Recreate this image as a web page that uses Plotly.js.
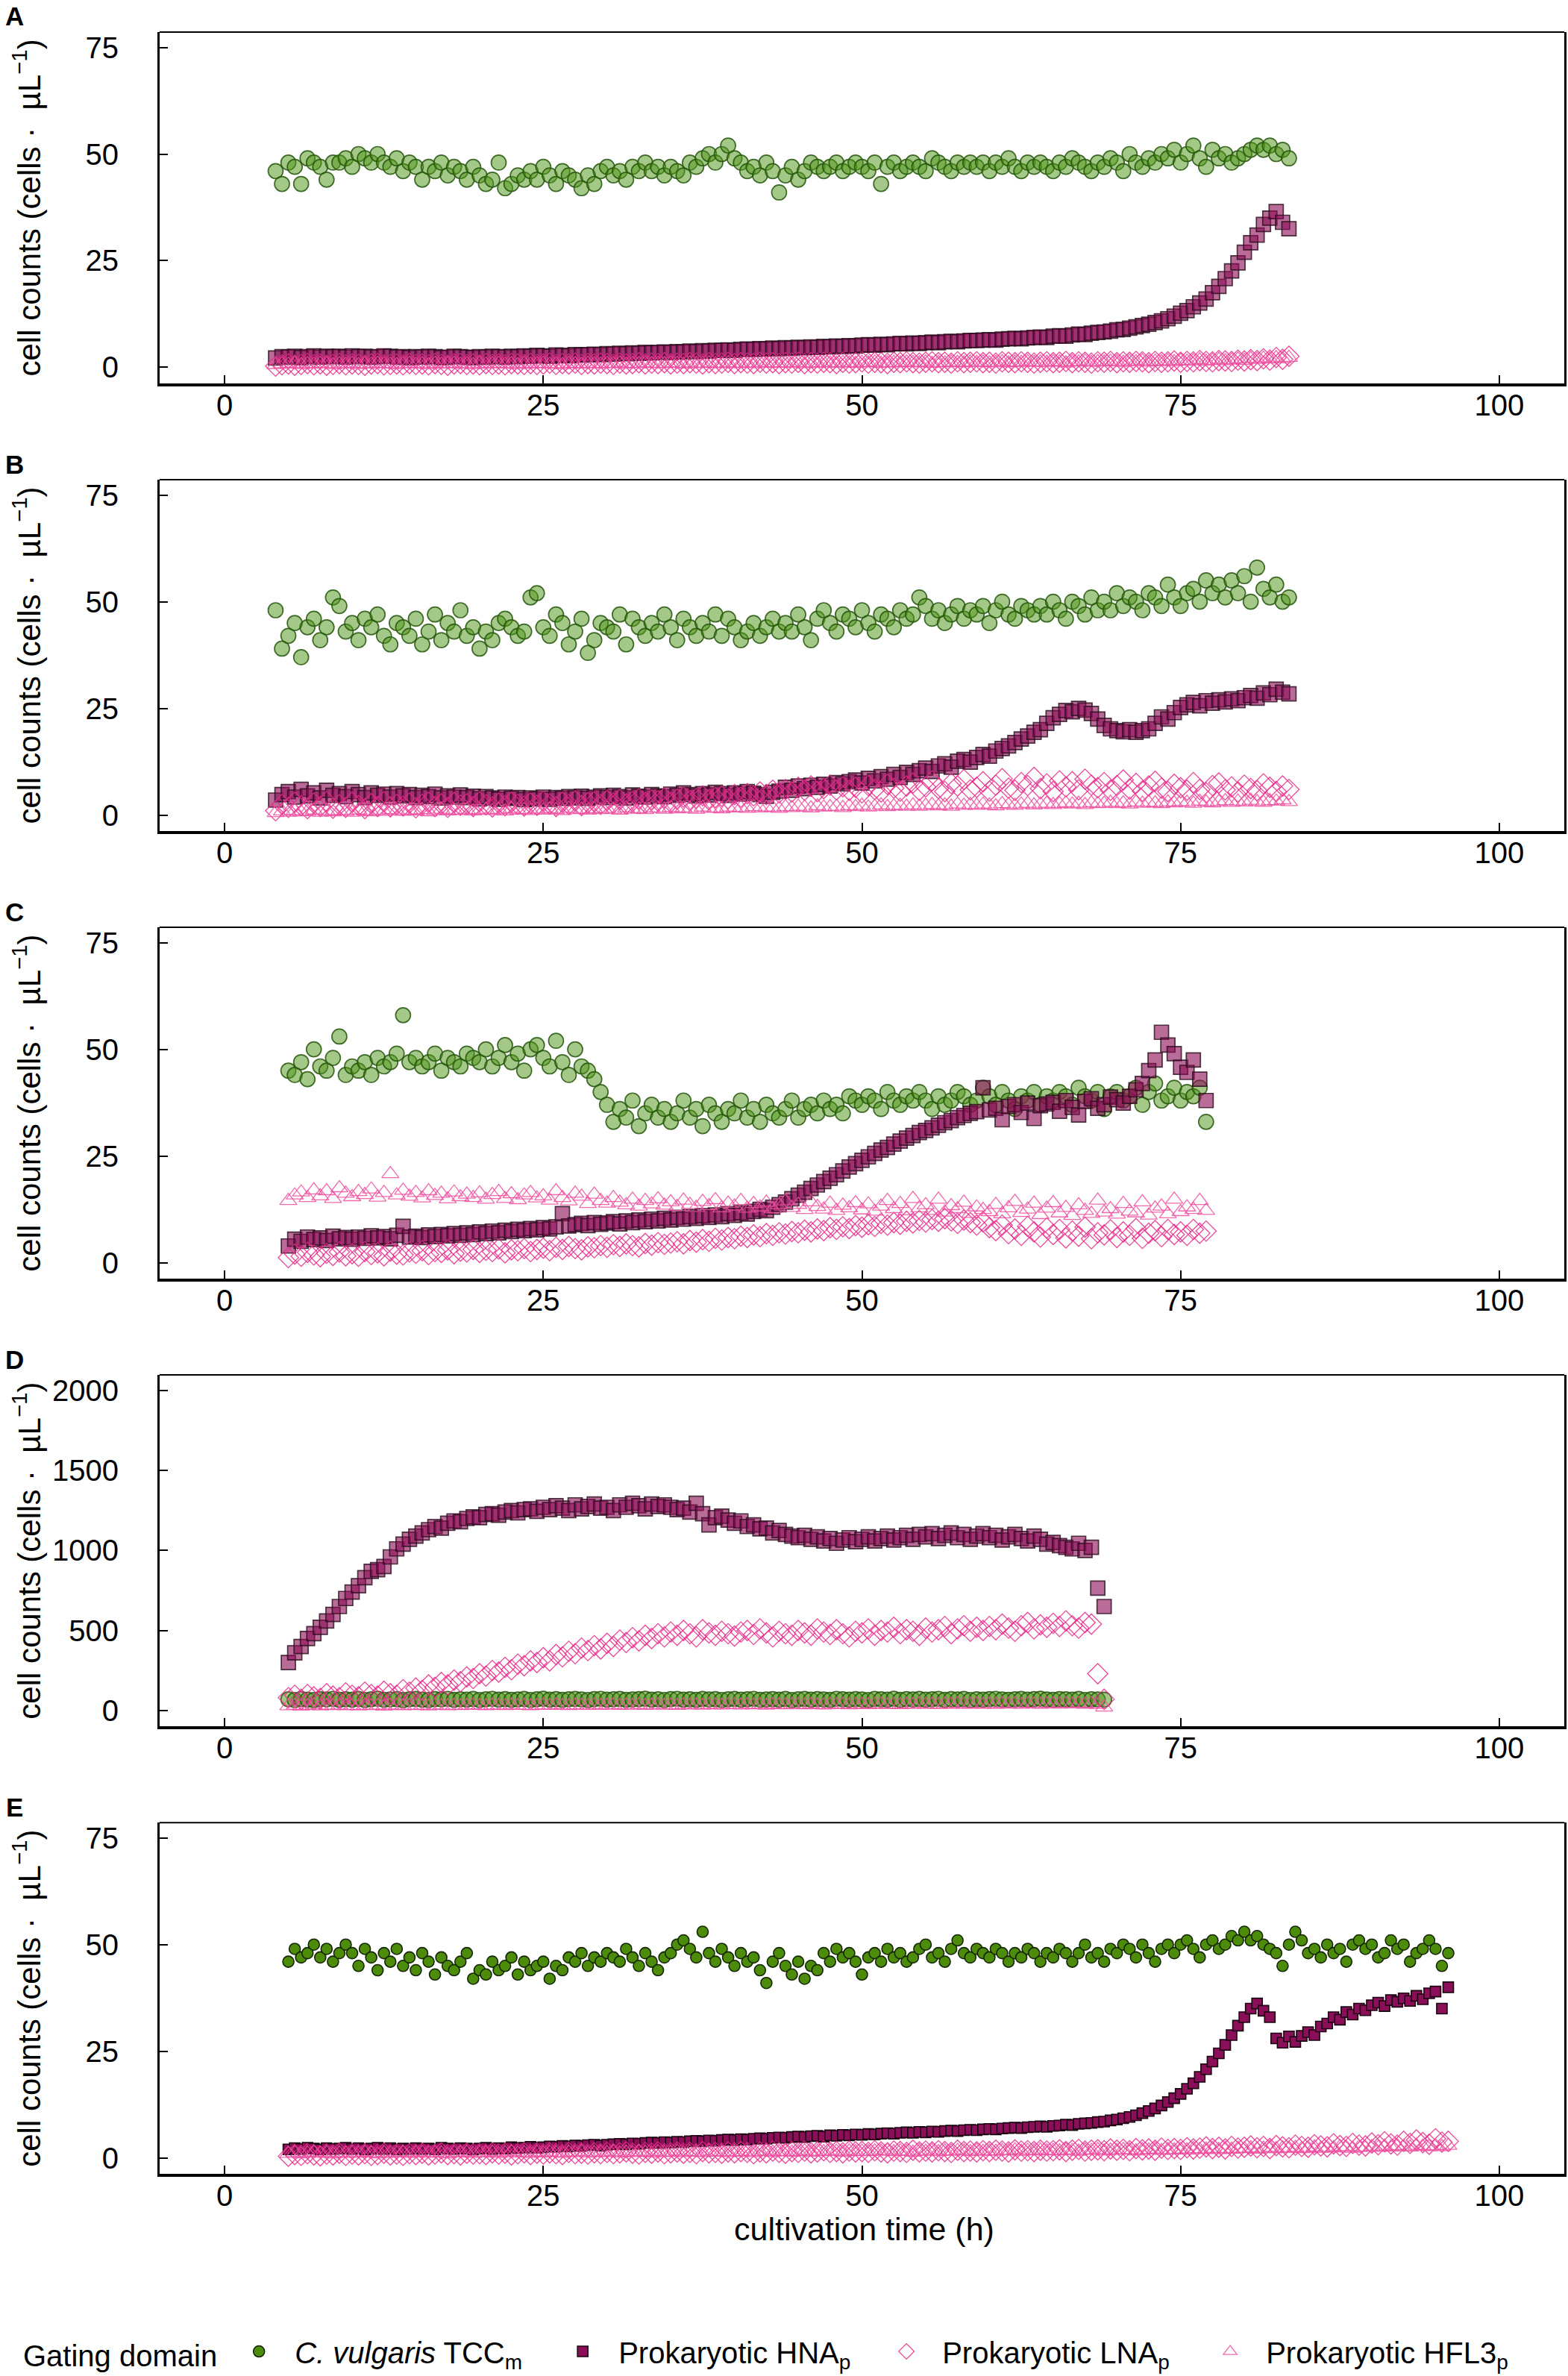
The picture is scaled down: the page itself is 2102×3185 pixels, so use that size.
<!DOCTYPE html>
<html>
<head>
<meta charset="utf-8">
<script src="https://cdn.plot.ly/plotly-3.0.1.min.js"></script>
<style>html,body{margin:0;padding:0;background:#fff;}#chart{width:2102px;height:3185px;}</style>
</head>
<body>
<div id="chart"></div>
<script>
// ---------------- DATA (cells per µL, sampled every 0.5 h) ----------------
const panelLetters = ["A", "B", "C", "D", "E"];
const seriesNames = ["<i>C. vulgaris</i> TCC<sub>m</sub>", "Prokaryotic HNA<sub>p</sub>", "Prokaryotic LNA<sub>p</sub>", "Prokaryotic HFL3<sub>p</sub>"];
const xTicks = [0, 25, 50, 75, 100];
const yTicksSmall = [0, 25, 50, 75];
const yTicksD = [0, 500, 1000, 1500, 2000];
const sampleStep = 0.5;
const startA = 4, startB = 4, startC = 5, startD = 5, startE = 5;

// Panel A
const greenA = [46,43,48,47,43,49,48,47,44,48, 48,49,47,50,49,48,50,48,47,49, 46,48,47,44,47,46,48,45,47,46, 44,47,45,43,44,48,42,43,45,44,
 46,44,47,45,43,46,45,44,42,45, 43,46,47,45,46,44,47,46,48,46, 47,45,47,46,45,48,47,49,50,48, 50,52,49,48,46,47,45,48,46,41,
 45,47,44,46,48,47,46,47,48,46, 47,48,47,46,48,43,47,48,46,47, 48,47,46,49,48,47,46,48,47,48, 47,48,46,48,47,49,47,46,48,47,
 48,47,46,48,47,49,48,47,46,48, 47,49,48,46,50,48,47,49,48,50, 49,51,48,50,52,49,47,51,49,50, 48,49,50,51,52,51,52,50,51,49];
const hnaA = [2.2,2.5,2.4,2.6,2.3,2.5,2.7,2.4,2.6,2.5, 2.6,2.4,2.7,2.5,2.6,2.4,2.5,2.7,2.6,2.4, 2.5,2.3,2.5,2.4,2.6,2.5,2.3,2.4,2.6,2.5, 2.4,2.3,2.5,2.4,2.6,2.5,2.4,2.6,2.5,2.7,
 2.6,2.8,2.7,2.6,2.9,2.8,2.7,3.0,2.9,3.0, 3.1,3.0,3.2,3.1,3.3,3.2,3.4,3.3,3.5,3.4, 3.5,3.6,3.5,3.7,3.6,3.8,3.7,3.9,3.8,4.0, 4.0,4.1,4.0,4.2,4.3,4.2,4.4,4.3,4.5,4.4,
 4.6,4.5,4.7,4.6,4.8,4.7,4.9,4.8,5.0,4.9, 5.1,5.0,5.2,5.3,5.2,5.4,5.3,5.5,5.6,5.5, 5.7,5.6,5.8,5.9,5.8,6.0,6.1,6.0,6.2,6.3, 6.3,6.4,6.5,6.4,6.6,6.7,6.8,6.7,6.9,7.0,
 7.1,7.0,7.3,7.4,7.3,7.6,7.8,7.7,8.0,8.2, 8.3,8.5,8.8,8.9,9.2,9.5,9.8,10.1,10.5,10.9, 11.4,12.0,12.7,13.3,14.2,15.1,16.0,17.5,19.0,20.8, 22.6,24.5,27.0,29.2,31.0,33.5,35.0,36.5,34.0,32.5];
const lnaA = [0.3,0.6,0.8,0.5,0.7,0.9,0.6,0.8,0.5,0.7, 0.9,0.6,0.8,0.7,0.5,0.8,0.9,0.6,0.7,0.8, 0.6,0.9,0.7,0.8,0.6,0.9,0.7,0.5,0.8,0.9, 0.7,0.8,0.6,0.9,0.7,0.8,0.6,0.9,0.8,0.7,
 0.9,0.7,0.8,1.0,0.7,0.9,0.8,1.0,0.7,0.9, 0.8,1.0,0.9,0.7,1.0,0.8,0.9,1.1,0.8,1.0, 0.9,1.1,0.8,1.0,0.9,1.1,1.0,0.8,1.1,0.9, 1.0,1.2,0.9,1.1,1.0,0.9,1.2,1.0,1.1,0.9,
 1.1,1.0,1.2,0.9,1.1,1.0,1.2,1.1,0.9,1.2, 1.0,1.1,1.3,1.0,1.2,1.1,0.9,1.2,1.1,1.3, 1.1,1.0,1.2,1.3,1.1,1.2,1.0,1.3,1.1,1.2, 1.3,1.1,1.2,1.0,1.3,1.2,1.1,1.3,1.2,1.0,
 1.2,1.3,1.1,1.2,1.4,1.1,1.3,1.2,1.0,1.3, 1.2,1.4,1.1,1.3,1.2,1.4,1.3,1.1,1.4,1.2, 1.3,1.5,1.2,1.4,1.3,1.6,1.4,1.3,1.6,1.5, 1.4,1.7,1.5,1.8,1.6,2.0,1.7,2.3,1.9,2.6];
const hfl3A = [0.6,0.8,0.7,0.9,0.6,0.8,0.7,0.9,0.8,0.6, 0.8,0.7,0.9,0.6,0.8,0.7,0.9,0.8,0.7,0.6, 0.8,0.9,0.7,0.8,0.6,0.9,0.7,0.8,0.9,0.7, 0.8,0.6,0.9,0.7,0.8,0.9,0.7,0.8,0.6,0.9,
 0.7,0.8,0.9,0.7,0.8,0.6,0.9,0.8,0.7,0.9, 0.8,0.7,0.9,0.8,1.0,0.7,0.9,0.8,1.0,0.8, 0.9,0.8,1.0,0.9,0.7,1.0,0.8,0.9,1.0,0.8, 0.9,1.0,0.8,0.9,1.0,0.8,1.1,0.9,1.0,0.9,
 1.0,0.9,1.1,0.8,1.0,0.9,1.1,1.0,0.9,1.1, 1.0,0.9,1.1,1.0,1.2,0.9,1.0,1.1,1.0,1.2, 1.1,1.0,1.2,0.9,1.1,1.0,1.2,1.1,1.0,1.2, 1.1,1.2,1.0,1.1,1.3,1.0,1.2,1.1,1.3,1.1,
 1.2,1.1,1.3,1.2,1.0,1.3,1.2,1.4,1.1,1.3, 1.2,1.4,1.3,1.1,1.4,1.3,1.5,1.2,1.4,1.3, 1.5,1.3,1.6,1.4,1.5,1.7,1.4,1.6,1.8,1.5, 1.7,1.9,1.6,2.0,1.8,2.1,1.9,2.2,2.0,2.3];

// Panel B
const greenB = [48,39,42,45,37,44,46,41,44,51, 49,43,45,41,46,44,47,42,40,45, 44,42,46,40,43,47,41,45,43,48, 42,44,39,43,41,45,46,44,42,43,
 51,52,44,42,47,45,40,43,46,38, 41,45,44,43,47,40,46,44,42,45, 43,47,44,41,46,44,42,45,43,47, 42,46,44,41,43,45,42,44,46,43,
 45,43,47,44,41,46,48,45,43,47, 46,44,48,45,43,47,46,44,48,46, 47,51,49,46,48,45,47,49,46,48, 47,49,45,48,50,47,46,49,48,47,
 49,47,50,48,46,50,49,47,51,48, 50,48,52,49,51,50,48,52,51,49, 54,51,49,52,53,50,55,52,54,51, 55,52,56,50,58,53,51,54,50,51];
const hnaB = [3.5,4.8,5.5,4.2,6.0,4.5,5.2,4.0,5.8,4.6, 5.0,4.3,5.5,4.8,4.1,5.2,4.6,4.9,4.2,5.0, 4.5,4.8,4.1,4.6,4.3,4.9,4.0,4.5,4.2,4.7, 4.1,4.4,3.8,4.3,4.0,3.7,4.2,3.9,4.1,3.6,
 4.0,3.8,4.2,3.7,4.1,3.9,4.3,4.0,4.4,3.9, 4.2,4.5,4.1,4.6,4.3,4.0,4.7,4.4,4.2,4.8, 4.5,4.3,4.9,4.6,5.2,4.8,4.5,5.0,4.7,5.3, 5.0,4.6,5.2,4.9,5.5,5.1,4.8,4.4,5.3,5.6,
 6.5,5.8,6.8,6.2,7.0,6.5,7.2,6.8,7.6,7.3, 7.8,8.2,7.5,8.6,8.0,9.0,8.4,9.5,8.8,10.0, 9.5,10.4,11.0,10.2,11.5,12.0,11.2,12.6,13.0,12.4, 13.5,14.2,13.8,15.0,15.6,16.2,17.0,17.8,18.5,19.4,
 20.0,21.5,22.8,23.6,24.5,24.2,25.0,24.6,23.8,22.5, 21.0,20.2,19.8,19.5,20.0,19.4,19.8,20.2,21.5,23.0, 22.5,24.0,25.2,25.8,26.4,25.6,26.8,26.2,27.0,26.5, 27.2,26.8,27.5,28.0,27.4,28.6,28.2,29.5,28.8,28.4];
const lnaB = [1.0,2.5,1.8,3.0,2.2,1.5,2.8,2.0,3.2,1.6, 2.4,1.8,3.0,2.2,1.5,2.7,2.0,3.1,1.9,2.5, 2.1,2.8,1.7,2.5,3.0,2.0,2.6,1.8,2.9,2.3, 2.6,2.0,3.1,2.4,1.9,2.8,2.2,3.0,2.5,2.1,
 2.8,2.3,3.2,2.6,2.0,3.0,2.5,3.3,2.2,2.9, 3.1,2.5,3.4,2.8,3.6,2.6,3.2,3.8,2.9,3.5, 3.3,4.0,3.0,3.7,4.2,3.4,3.9,4.5,3.6,4.1, 4.4,3.8,4.8,4.2,5.0,4.5,5.4,4.8,5.8,5.2,
 6.0,5.4,6.5,5.8,6.8,5.5,6.2,7.0,5.9,6.6, 5.8,6.5,5.2,6.9,6.0,5.4,7.2,6.3,5.6,6.8, 7.5,5.8,6.6,8.0,6.2,5.5,7.4,6.8,8.3,5.9, 6.5,7.8,5.6,7.0,8.5,6.3,5.8,7.6,6.9,8.8,
 6.2,7.3,5.5,8.0,6.6,7.8,5.9,8.4,7.0,6.4, 7.6,5.8,6.9,8.2,6.1,7.4,5.6,6.8,7.9,6.3, 5.5,7.2,6.4,5.8,7.6,6.0,5.2,6.9,7.5,5.9, 6.6,5.4,7.0,6.2,5.7,7.3,6.5,5.5,6.8,6.0];
const hfl3B = [0.5,0.9,0.6,1.0,0.7,0.8,1.1,0.6,0.9,0.7, 1.0,0.8,0.6,1.1,0.9,0.7,1.0,0.8,1.2,0.9, 0.8,1.1,0.9,1.2,0.7,1.0,1.3,0.9,1.1,1.0, 1.2,0.9,1.1,1.3,1.0,1.2,0.9,1.4,1.1,1.2,
 1.0,1.3,1.1,1.4,1.2,1.0,1.5,1.2,1.3,1.1, 1.4,1.2,1.5,1.3,1.1,1.6,1.3,1.4,1.2,1.6, 1.5,1.3,1.7,1.4,1.6,1.5,1.3,1.8,1.5,1.6, 1.4,1.8,1.6,1.7,1.5,1.9,1.6,1.8,1.7,1.5,
 1.9,1.7,2.0,1.8,1.6,2.1,1.8,1.9,2.0,1.7, 2.1,1.9,2.2,1.8,2.0,2.3,1.9,2.1,2.2,2.0, 2.3,2.0,2.2,2.4,2.1,2.3,2.0,2.5,2.2,2.4, 2.2,2.5,2.3,2.1,2.6,2.4,2.2,2.5,2.7,2.3,
 2.5,2.7,2.4,2.6,2.8,2.5,2.7,2.4,2.8,2.6, 2.7,2.9,2.6,2.8,2.5,3.0,2.7,2.9,2.8,2.6, 3.0,2.8,3.1,2.9,2.7,3.2,3.0,2.8,3.1,3.3, 2.9,3.2,3.0,3.4,3.1,2.9,3.3,3.2,3.5,3.1];

// Panel C
const greenC = [45,44,47,43,50,46,45,48,53,44, 46,45,47,44,48,46,47,49,58,47, 48,46,47,49,45,48,47,46,49,48, 47,50,46,48,51,47,49,45,50,51,
 48,46,52,47,44,50,46,45,43,40, 37,33,36,34,38,32,35,37,34,36, 33,35,38,34,36,32,37,35,33,36, 35,38,34,36,33,37,35,34,36,38,
 34,36,37,35,38,36,37,35,39,38, 37,39,38,36,40,38,37,39,38,40, 38,36,39,37,38,40,39,37,38,41, 39,37,40,38,36,39,38,40,37,39,
 38,40,39,37,41,39,38,40,36,39, 40,38,39,41,37,40,42,38,39,41, 38,40,39,41,33];
const hnaC = [3.9,5.5,5.0,6.0,5.4,5.8,5.2,6.2,5.6,5.9, 5.5,6.0,5.7,6.3,5.8,6.1,5.6,6.4,8.5,6.0, 6.2,5.9,6.5,6.1,6.6,6.3,6.8,6.4,7.0,6.6, 7.2,6.8,7.4,7.0,7.6,7.3,7.8,7.5,8.0,7.7,
 8.2,7.9,8.4,11.5,8.6,8.9,9.2,8.7,9.4,9.0, 9.3,9.6,9.1,9.8,9.4,10.0,9.6,10.2,9.8,10.4, 10.0,10.6,10.2,10.8,10.4,11.0,10.6,11.2,10.8,11.5, 11.1,11.7,11.4,12.0,12.5,12.2,13.0,13.6,14.2,15.0,
 15.8,16.5,17.4,18.2,19.0,19.8,20.6,21.5,22.4,23.2, 24.0,24.8,25.6,26.4,27.0,27.8,28.5,29.2,29.8,30.5, 31.0,31.6,32.2,32.8,33.3,34.0,34.5,35.0,35.4,41.0, 35.8,36.2,33.5,36.6,37.0,35.2,37.4,33.8,36.8,37.2,
 37.6,35.5,38.0,36.4,34.6,37.8,38.4,36.2,37.0,38.8, 38.2,37.4,39.0,40.5,42.0,45.0,47.5,54.0,51.0,49.0, 45.8,44.6,47.5,43.0,38.0];
const lnaC = [1.2,2.0,1.5,2.4,1.8,1.4,2.2,1.7,2.5,1.6, 2.1,1.5,2.6,1.9,2.3,1.6,2.7,2.0,1.8,2.5, 2.2,2.8,1.9,2.6,2.4,3.0,2.1,2.7,2.5,3.1, 2.4,2.9,2.6,3.2,2.3,3.0,2.8,3.3,2.6,3.1,
 3.4,2.8,3.6,3.1,3.8,3.3,3.0,3.7,3.5,4.0, 3.6,4.2,3.8,4.4,4.0,3.7,4.5,4.1,4.7,4.3, 4.6,4.9,4.4,5.2,4.8,5.4,5.0,5.7,5.3,5.9, 5.6,6.2,5.9,6.5,6.1,6.8,6.4,7.0,6.7,7.3,
 7.0,7.6,7.2,7.9,7.5,8.2,7.8,8.4,8.0,8.7, 8.3,8.9,8.5,9.2,8.8,9.4,9.0,9.7,9.3,9.9, 9.5,10.1,9.7,10.3,9.8,9.2,10.0,9.4,8.8,9.6, 8.2,7.5,8.8,6.8,7.9,6.4,8.5,7.2,6.0,8.1,
 6.6,7.8,5.8,7.4,6.2,8.3,5.6,7.0,6.5,7.7, 5.9,7.2,6.4,8.0,5.7,6.9,7.5,6.1,7.8,6.6, 7.2,6.4,7.8,6.9,7.4];
const hfl3C = [14.5,15.8,16.5,15.2,17.0,15.6,16.8,15.0,17.5,16.2, 15.4,16.6,15.9,17.2,15.3,16.4,20.8,15.8,16.9,15.5, 16.4,15.1,16.8,15.7,16.2,14.9,16.5,15.4,16.0,15.2, 16.3,14.8,15.9,16.6,15.0,16.1,14.7,15.8,16.4,15.1,
 15.6,14.6,16.8,15.2,14.4,16.2,15.5,13.8,16.0,14.5, 13.9,15.2,14.1,13.5,14.8,13.2,14.5,13.7,14.9,13.4, 14.2,13.1,14.6,13.6,12.9,14.3,13.3,14.7,12.8,13.9, 13.2,14.5,12.7,13.8,13.0,14.1,12.6,13.5,14.4,12.9,
 13.6,12.4,14.2,13.1,12.5,13.9,12.2,13.4,12.8,14.0, 12.3,13.7,12.0,13.2,14.5,12.6,13.8,12.1,15.0,12.8, 13.5,12.2,14.8,11.8,13.3,12.6,14.1,11.5,13.0,12.4, 11.9,13.6,11.4,12.8,14.3,11.7,12.5,13.9,11.2,12.7,
 14.0,11.6,12.9,11.0,13.5,12.2,11.5,14.6,11.8,12.6, 11.3,13.8,12.0,11.6,14.2,11.1,12.7,13.2,11.4,14.8, 11.9,13.0,12.4,14.5,12.2];

// Panel D
const greenD = [70,66,72,68,65,71,69,73,67,70, 68,72,66,70,74,67,69,71,65,70, 72,68,66,71,69,73,67,70,68,72, 66,70,73,68,71,67,69,72,66,70,
 74,68,71,67,70,72,69,66,71,73, 68,70,72,67,69,71,74,68,70,66, 71,73,68,70,67,72,69,71,66,70, 72,68,70,73,67,69,71,68,72,66,
 70,72,68,71,69,67,73,70,68,71, 69,66,72,70,68,74,67,71,69,72, 68,70,73,67,71,69,72,66,70,68, 71,73,69,67,70,72,68,71,74,69,
 67,71,70,68,72,66,70,69,68];
const hnaD = [300,360,400,450,480,520,560,600,650,700, 740,780,830,870,880,900,960,1010,1040,1070, 1090,1110,1130,1150,1140,1170,1185,1180,1200,1210, 1205,1225,1230,1220,1240,1250,1235,1255,1260,1245,
 1270,1255,1280,1265,1250,1285,1260,1275,1290,1265, 1270,1250,1285,1270,1295,1280,1260,1290,1275,1285, 1270,1255,1265,1240,1295,1230,1160,1205,1215,1190, 1170,1185,1150,1160,1135,1140,1110,1125,1100,1090,
 1080,1095,1070,1085,1060,1075,1045,1065,1080,1055, 1070,1085,1060,1075,1090,1065,1080,1095,1070,1100, 1085,1105,1075,1095,1110,1080,1100,1070,1090,1105, 1080,1095,1065,1085,1100,1075,1060,1090,1070,1040,
 1050,1030,1020,1010,1045,1000,1020,765,650];
const lnaD = [80,95,70,100,85,75,105,90,80,110, 95,85,115,100,90,120,105,95,130,115, 140,125,160,145,175,160,190,180,210,200, 230,215,250,240,270,255,290,280,310,300,
 330,310,350,335,370,355,390,375,405,385, 420,400,440,425,455,435,470,450,480,460, 490,470,500,480,460,505,485,470,495,480, 465,490,500,475,510,485,460,495,480,470,
 500,485,470,510,490,475,505,480,460,495, 485,510,470,500,490,520,480,505,495,470, 515,490,505,525,480,510,530,495,520,500, 525,505,540,515,495,530,550,510,535,520,
 545,525,560,530,515,550,540,230,70];
const hfl3D = [28,32,26,30,34,27,31,29,33,28, 30,27,32,29,31,26,33,30,28,32, 29,31,27,33,30,28,32,29,31,34, 30,28,33,31,29,34,30,32,28,31,
 33,30,35,31,29,34,32,30,36,31, 33,35,30,34,32,36,31,33,35,32, 34,31,36,33,35,32,37,34,33,36, 35,33,37,34,36,32,38,35,34,37,
 36,34,38,35,33,37,36,39,34,37, 38,35,37,40,36,38,35,39,37,41, 37,39,36,40,38,42,37,39,41,38, 40,38,42,39,41,37,43,40,38,42,
 41,39,43,40,44,38,42,36,20];

// Panel E
const greenE = [46,49,47,48,50,47,49,46,48,50, 48,45,49,47,44,48,46,49,45,47, 44,48,46,43,47,45,44,46,48,42, 44,43,46,44,45,47,43,46,44,45,
 46,42,45,44,47,46,48,45,47,46, 48,47,46,49,47,45,48,46,44,47, 48,50,51,49,47,53,48,46,49,47, 45,48,46,47,44,41,46,48,45,43,
 46,42,45,44,48,46,49,47,48,46, 43,47,48,46,49,47,48,46,47,49, 50,47,48,46,49,51,48,47,49,48, 47,49,48,46,48,47,49,48,46,48,
 47,49,48,46,48,50,47,48,46,49, 48,50,49,47,50,48,46,49,50,48, 50,51,49,47,50,51,49,50,52,51, 53,51,52,50,49,48,45,50,53,51,
 48,49,47,50,48,49,46,50,51,49, 50,47,48,51,49,50,46,48,49,51, 49,45,48];
const hnaE = [2.0,2.3,2.1,2.4,2.2,2.0,2.3,2.1,2.2,2.4, 2.1,2.3,2.0,2.2,2.4,2.1,2.3,2.0,2.2,2.1, 2.3,2.1,2.2,2.0,2.4,2.2,2.1,2.3,2.2,2.0, 2.2,2.4,2.1,2.3,2.2,2.5,2.3,2.4,2.6,2.4,
 2.5,2.7,2.6,2.8,2.7,2.9,2.8,3.0,3.1,2.9, 3.1,3.2,3.3,3.2,3.4,3.3,3.5,3.6,3.5,3.7, 3.6,3.8,3.7,3.9,4.0,3.9,4.1,4.0,4.2,4.3, 4.2,4.4,4.3,4.5,4.6,4.5,4.7,4.8,4.7,4.9,
 5.0,4.9,5.1,5.2,5.0,5.3,5.2,5.4,5.3,5.5, 5.4,5.6,5.5,5.7,5.8,5.7,5.9,6.0,5.9,6.1, 6.0,6.2,6.1,6.3,6.4,6.3,6.5,6.6,6.5,6.7, 6.8,6.7,6.9,7.0,7.1,7.0,7.2,7.3,7.4,7.3,
 7.5,7.6,7.8,7.7,8.0,8.1,8.2,8.4,8.5,8.8, 9.0,9.3,9.6,10.0,10.5,11.0,11.6,12.3,13.1,14.0, 15.0,16.2,17.5,19.0,20.8,22.6,24.5,26.5,28.8,31.0, 33.0,35.0,36.2,34.5,33.0,28.0,27.0,28.5,27.2,28.6,
 29.5,28.8,30.8,31.5,33.0,32.4,34.2,33.6,35.0,34.6, 35.8,36.4,35.6,37.0,36.6,37.4,36.8,38.0,37.2,38.6, 39.0,35.0,40.0];
const lnaE = [0.4,0.8,0.6,1.0,0.7,0.5,0.9,0.7,1.1,0.6, 0.9,0.7,1.0,0.6,0.8,1.1,0.7,0.9,0.6,1.0, 0.8,1.1,0.7,0.9,1.2,0.8,1.0,0.7,1.1,0.9, 1.0,0.8,1.2,0.9,1.1,0.7,1.0,1.2,0.8,1.1,
 0.9,1.2,1.0,0.8,1.3,1.0,1.1,0.9,1.2,1.0, 1.3,1.0,1.2,1.4,1.1,0.9,1.3,1.1,1.4,1.0, 1.2,1.4,1.1,1.3,1.0,1.5,1.2,1.3,1.1,1.4, 1.2,1.5,1.3,1.0,1.4,1.2,1.6,1.3,1.1,1.5,
 1.3,1.6,1.2,1.4,1.7,1.3,1.5,1.2,1.6,1.4, 1.5,1.3,1.7,1.4,1.2,1.6,1.5,1.3,1.8,1.4, 1.6,1.4,1.7,1.5,1.3,1.8,1.5,1.6,1.4,1.7, 1.5,1.8,1.6,1.4,1.9,1.6,1.7,1.5,1.8,1.6,
 1.7,1.9,1.5,1.8,2.0,1.6,1.8,1.9,1.7,2.1, 1.8,2.0,1.7,2.2,1.9,2.1,1.8,2.3,2.0,2.2, 2.0,2.4,2.1,2.3,2.6,2.2,2.5,2.1,2.7,2.3, 2.5,2.8,2.4,2.7,2.2,2.9,2.6,2.4,3.0,2.7,
 2.5,3.1,2.8,2.6,3.3,2.9,2.7,3.4,3.0,2.8, 3.5,3.1,3.8,3.3,3.0,3.9,3.4,4.2,3.6,3.2, 4.5,3.7,3.9];
const hfl3E = [1.0,1.2,0.9,1.1,1.3,1.0,1.2,0.9,1.1,1.0, 1.2,1.0,1.3,1.1,0.9,1.2,1.0,1.1,1.3,1.0, 1.1,1.3,1.0,1.2,1.1,0.9,1.2,1.1,1.3,1.0, 1.2,1.1,1.3,1.0,1.2,1.4,1.1,1.2,1.0,1.3,
 1.1,1.3,1.2,1.0,1.3,1.2,1.4,1.1,1.2,1.3, 1.2,1.4,1.1,1.3,1.2,1.4,1.3,1.1,1.4,1.2, 1.3,1.5,1.2,1.4,1.3,1.2,1.5,1.3,1.4,1.2, 1.4,1.3,1.5,1.2,1.4,1.6,1.3,1.4,1.5,1.3,
 1.4,1.6,1.3,1.5,1.4,1.6,1.5,1.3,1.6,1.4, 1.5,1.4,1.6,1.5,1.7,1.4,1.6,1.5,1.3,1.6, 1.5,1.7,1.4,1.6,1.5,1.7,1.6,1.4,1.7,1.5, 1.6,1.5,1.7,1.6,1.8,1.5,1.7,1.6,1.8,1.6,
 1.7,1.6,1.8,1.7,1.5,1.8,1.7,1.9,1.6,1.8, 1.7,1.9,1.8,1.6,1.9,1.8,2.0,1.7,1.9,1.8, 2.0,1.8,2.1,1.9,2.0,2.2,1.9,2.1,2.0,2.2, 2.1,2.3,2.0,2.2,2.4,2.1,2.3,2.2,2.4,2.1,
 2.3,2.5,2.2,2.4,2.3,2.6,2.4,2.2,2.5,2.4, 2.6,2.4,2.7,2.5,2.8,2.6,2.5,2.9,2.7,2.6, 2.8,2.6,2.9];

// ---------------- LAYOUT / STYLE ----------------
const W = 2102, H = 3185;
const panels = [
  {start: startA, s: [greenA, hnaA, lnaA, hfl3A], yr: [-3.8, 78.6], yt: yTicksSmall, solid: false},
  {start: startB, s: [greenB, hnaB, lnaB, hfl3B], yr: [-3.8, 78.6], yt: yTicksSmall, solid: false},
  {start: startC, s: [greenC, hnaC, lnaC, hfl3C], yr: [-3.8, 78.6], yt: yTicksSmall, solid: false},
  {start: startD, s: [greenD, hnaD, lnaD, hfl3D], yr: [-100, 2097], yt: yTicksD, solid: false},
  {start: startE, s: [greenE, hnaE, lnaE, hfl3E], yr: [-3.8, 78.6], yt: yTicksSmall, solid: true}
];
const plotLeft = 214, plotRight = 2097, panelTop0 = 43, panelH = 472, panelGap = 601;
const FONT = "Liberation Sans, Arial, sans-serif";
const TICKSIZE = 40;

function markerStyle(k, solid) {
  if (k === 0) return solid
    ? {symbol: "circle", size: 15, color: "#4c8c0a", line: {color: "#142405", width: 1.6}}
    : {symbol: "circle", size: 20, color: "rgba(80,150,25,0.52)", line: {color: "rgba(35,85,10,0.85)", width: 1.7}};
  if (k === 1) return solid
    ? {symbol: "square", size: 14, color: "#8a0f58", line: {color: "#1a0510", width: 1.6}}
    : {symbol: "square", size: 19, color: "rgba(140,10,85,0.6)", line: {color: "rgba(40,12,28,0.8)", width: 1.7}};
  if (k === 2) return {symbol: "diamond-open", size: 21, color: "rgba(232,40,138,0.85)", line: {width: 1.3}};
  return {symbol: "triangle-up-open", size: 20, color: "rgba(238,80,160,0.85)", line: {width: 1.3}};
}

const traces = [];
const layout = {
  width: W, height: H, margin: {l: 0, r: 0, t: 0, b: 0},
  paper_bgcolor: "#fff", plot_bgcolor: "#fff",
  font: {family: FONT, color: "#000", size: TICKSIZE},
  showlegend: true,
  legend: {
    orientation: "h", x: 0.0138, xanchor: "left", y: 1 - 3157 / H, yanchor: "middle",
    font: {family: FONT, size: 40, color: "#000"},
    title: {text: "Gating domain", side: "left", font: {family: FONT, size: 40, color: "#000"}},
    itemwidth: 86, entrywidth: 333, entrywidthmode: "pixels",
    traceorder: "normal", bgcolor: "rgba(0,0,0,0)"
  },
  annotations: [], shapes: []
};

panels.forEach((p, i) => {
  const ax = i === 0 ? "" : String(i + 1);
  const topPx = panelTop0 + i * panelGap, botPx = topPx + panelH;
  const yd = [1 - botPx / H, 1 - topPx / H];
  const xd = [plotLeft / W, plotRight / W];
  p.s.forEach((vals, k) => {
    const t = vals.map((_, j) => p.start + j * sampleStep);
    traces.push({
      type: "scatter", mode: "markers", x: t, y: vals,
      xaxis: "x" + ax, yaxis: "y" + ax,
      name: seriesNames[k], marker: markerStyle(k, p.solid),
      showlegend: i === 4, hoverinfo: "skip"
    });
  });
  layout["xaxis" + ax] = {
    domain: xd, anchor: "y" + ax, range: [-5.1, 105.1],
    tickmode: "array", tickvals: xTicks, ticktext: xTicks.map(String),
    ticks: "inside", ticklen: 11, tickwidth: 2, tickcolor: "#000",
    showline: true, linewidth: 4, linecolor: "#000", mirror: false,
    showgrid: false, zeroline: false, ticklabelstandoff: -9,
    tickfont: {family: FONT, size: TICKSIZE, color: "#000"}
  };
  layout["yaxis" + ax] = {
    domain: yd, anchor: "x" + ax, range: p.yr,
    tickmode: "array", tickvals: p.yt, ticktext: p.yt.map(String),
    ticks: "inside", ticklen: 11, tickwidth: 2, tickcolor: "#000",
    showline: true, linewidth: 3, linecolor: "#000", mirror: true,
    showgrid: false, zeroline: false, ticklabelstandoff: 44,
    tickfont: {family: FONT, size: TICKSIZE, color: "#000"}
  };
  layout.shapes.push({type: "line", xref: "paper", yref: "paper", x0: xd[0], x1: xd[1], y0: yd[1], y1: yd[1], line: {color: "#000", width: 2}});
  layout.annotations.push({
    text: "<b>" + panelLetters[i] + "</b>", xref: "paper", yref: "paper",
    x: 19 / W, y: 1 - (22 + i * panelGap) / H, xanchor: "center", yanchor: "middle",
    showarrow: false, font: {family: FONT, size: 35, color: "#000"}
  });
  layout.annotations.push({
    text: "cell counts (cells \u00b7  \u00b5L<sup>\u22121</sup>)", xref: "paper", yref: "paper",
    x: 36 / W, y: (yd[0] + yd[1]) / 2, xanchor: "center", yanchor: "middle", textangle: -90,
    showarrow: false, font: {family: FONT, size: 42, color: "#000"}
  });
});
layout.annotations.push({
  text: "cultivation time (h)", xref: "paper", yref: "paper",
  x: 1158 / W, y: 1 - 2993 / H, xanchor: "center", yanchor: "middle",
  showarrow: false, font: {family: FONT, size: 43, color: "#000"}
});

Plotly.newPlot("chart", traces, layout, {staticPlot: true, displayModeBar: false});
</script>
</body>
</html>
